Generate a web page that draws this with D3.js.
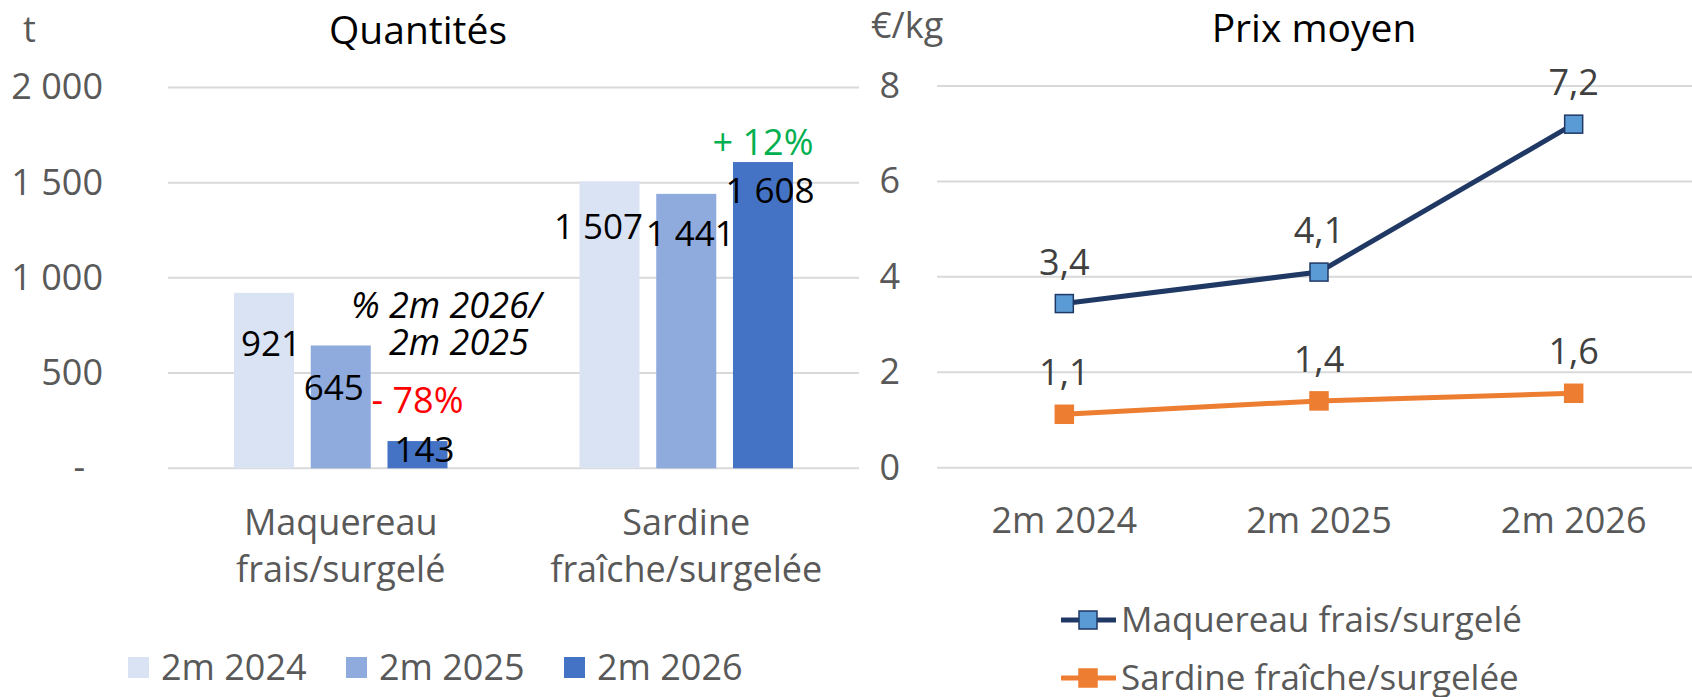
<!DOCTYPE html>
<html>
<head>
<meta charset="utf-8">
<script src="https://cdn.jsdelivr.net/npm/d3@7"></script>
<style>
body { margin: 0; background: #fff; }
text { font-family: 'Open Sans', sans-serif; }
</style>
</head>
<body>
<div id="chart"></div>
<script>
// data
var species = ["Maquereau frais/surgelé", "Sardine fraîche/surgelée"];
var speciesLines = [["Maquereau", "frais/surgelé"], ["Sardine", "fraîche/surgelée"]];
var periods = ["2m 2024", "2m 2025", "2m 2026"];
var qty2024 = [921, 1507];
var qty2025 = [645, 1441];
var qty2026 = [143, 1608];
var qtyTicks = [0, 500, 1000, 1500, 2000];
var changeLabels = ["- 78%", "+ 12%"];
var priceMaquereau = [3.44, 4.1, 7.2];
var priceSardine = [1.12, 1.4, 1.56];
var priceTicks = [0, 2, 4, 6, 8];

// layout only: hand nudges of the bar labels (dx, dy from bar centre / top)
var labelNudge = [
    [[7, 63], [-7, 55], [7, 21]],
    [[-11, 58], [4, 52], [7, 41]]
];
var barColors = ["#DAE3F3", "#8FAADC", "#4472C4"];
var gridColor = "#D9D9D9";
var axisText = "#595959";
var fs = 36;      // axis + legend text
var fsVal = 35;   // data labels
var fsTitle = 39;

var fr = d3.formatLocale({decimal: ",", thousands: " ", grouping: [3], currency: ["", ""]});
var fmtQty = fr.format(",d");
var fmtPrice = fr.format(".1f");

var width = 1692, height = 697;
var svg = d3.select("#chart").append("svg")
    .attr("width", width)
    .attr("height", height);

// ---------- left : quantités ----------
var qtyBySeries = [qty2024, qty2025, qty2026];
var x0 = d3.scaleBand().domain(species).range([168, 859]);
var x1 = d3.scaleBand().domain(periods).range([66, x0.bandwidth() - 66]).paddingInner(0.218);
var y = d3.scaleLinear().domain([0, 2000]).range([468.3, 87.4]);

svg.append("g").selectAll("line")
    .data(qtyTicks)
    .enter()
    .append("line")
    .attr("x1", 168).attr("x2", 859)
    .attr("y1", function (d) { return y(d); })
    .attr("y2", function (d) { return y(d); })
    .attr("stroke", gridColor)
    .attr("stroke-width", 2);

var yAxis = svg.append("g")
    .attr("transform", "translate(168,0)")
    .call(d3.axisLeft(y).tickValues(qtyTicks).tickSize(0).tickPadding(65)
        .tickFormat(function (d) { return d === 0 ? "-" : fmtQty(d); }));
yAxis.select(".domain").remove();
yAxis.selectAll("text")
    .attr("fill", axisText)
    .style("font-size", fs + "px")
    .attr("dx", function (d) { return d === 0 ? -18 : 0; });

var groups = svg.selectAll(".grp")
    .data(species)
    .enter()
    .append("g")
    .attr("class", "grp")
    .attr("transform", function (d) { return "translate(" + x0(d) + ",0)"; });

groups.selectAll("rect")
    .data(function (d, i) { return periods.map(function (p, j) { return {p: p, j: j, i: i, v: qtyBySeries[j][i]}; }); })
    .enter()
    .append("rect")
    .attr("x", function (d) { return x1(d.p); })
    .attr("y", function (d) { return y(d.v); })
    .attr("width", x1.bandwidth())
    .attr("height", function (d) { return y(0) - y(d.v); })
    .attr("fill", function (d) { return barColors[d.j]; });

groups.selectAll(".val")
    .data(function (d, i) { return periods.map(function (p, j) { return {p: p, j: j, i: i, v: qtyBySeries[j][i]}; }); })
    .enter()
    .append("text")
    .attr("class", "val")
    .attr("x", function (d) { return x1(d.p) + x1.bandwidth() / 2 + labelNudge[d.i][d.j][0]; })
    .attr("y", function (d) { return y(d.v) + labelNudge[d.i][d.j][1]; })
    .attr("text-anchor", "middle")
    .style("font-size", fsVal + "px")
    .attr("fill", "#000")
    .text(function (d) { return fmtQty(d.v); });

// change labels above the 2026 bars
groups.append("text")
    .attr("x", x1(periods[2]) + x1.bandwidth() / 2)
    .attr("y", function (d, i) { return y(qty2026[i]) + (i === 0 ? -28 : -7); })
    .attr("text-anchor", "middle")
    .style("font-size", fs + "px")
    .attr("fill", function (d, i) { return i === 0 ? "#FF0000" : "#00B050"; })
    .text(function (d, i) { return changeLabels[i]; });

// note
svg.append("text").attr("x", 351).attr("y", 318)
    .style("font-size", fs + "px").style("font-style", "italic")
    .text("% 2m 2026/");
svg.append("text").attr("x", 389).attr("y", 355)
    .style("font-size", fs + "px").style("font-style", "italic")
    .text("2m 2025");

// category labels
groups.selectAll(".cat")
    .data(function (d, i) { return speciesLines[i]; })
    .enter()
    .append("text")
    .attr("class", "cat")
    .attr("x", x0.bandwidth() / 2)
    .attr("y", function (d, k) { return 535 + k * 47; })
    .attr("text-anchor", "middle")
    .attr("fill", axisText)
    .style("font-size", fs + "px")
    .text(function (d) { return d; });

svg.append("text").attr("x", 23).attr("y", 42)
    .attr("fill", axisText).style("font-size", fs + "px").text("t");
svg.append("text").attr("x", 418).attr("y", 44)
    .attr("text-anchor", "middle").style("font-size", fsTitle + "px").text("Quantités");

// legend left
var legL = svg.selectAll(".legL")
    .data(periods)
    .enter()
    .append("g")
    .attr("class", "legL")
    .attr("transform", function (d, i) { return "translate(" + (128 + i * 218) + ",657)"; });
legL.append("rect")
    .attr("width", 21).attr("height", 21)
    .attr("fill", function (d, i) { return barColors[i]; });
legL.append("text")
    .attr("x", 33).attr("y", 23)
    .attr("fill", axisText)
    .style("font-size", fs + "px")
    .text(function (d) { return d; });

// ---------- right : prix moyen ----------
var xp = d3.scaleBand().domain(periods).range([937, 1701]);
var yp = d3.scaleLinear().domain([0, 8]).range([467.7, 86]);

svg.append("g").selectAll("line")
    .data(priceTicks)
    .enter()
    .append("line")
    .attr("x1", 937).attr("x2", 1701)
    .attr("y1", function (d) { return yp(d); })
    .attr("y2", function (d) { return yp(d); })
    .attr("stroke", gridColor)
    .attr("stroke-width", 2);

var ypAxis = svg.append("g")
    .attr("transform", "translate(937,0)")
    .call(d3.axisLeft(yp).tickValues(priceTicks).tickSize(0).tickPadding(37));
ypAxis.select(".domain").remove();
ypAxis.selectAll("text").attr("fill", axisText).style("font-size", fs + "px");

var xpAxis = svg.append("g")
    .attr("transform", "translate(0,468)")
    .call(d3.axisBottom(xp).tickSize(0).tickPadding(39));
xpAxis.select(".domain").remove();
xpAxis.selectAll("text").attr("fill", axisText).style("font-size", fs + "px");

var lineSeries = [
    {name: species[0], values: priceMaquereau, stroke: "#203864", fill: "#5B9BD5"},
    {name: species[1], values: priceSardine, stroke: "#ED7D31", fill: "#ED7D31"}
];
var line = d3.line()
    .x(function (d, i) { return xp(periods[i]) + xp.bandwidth() / 2; })
    .y(function (d) { return yp(d); });

var ser = svg.selectAll(".ser")
    .data(lineSeries)
    .enter()
    .append("g")
    .attr("class", "ser");
ser.append("path")
    .attr("d", function (d) { return line(d.values); })
    .attr("fill", "none")
    .attr("stroke", function (d) { return d.stroke; })
    .attr("stroke-width", 5)
    .attr("stroke-linejoin", "round");
ser.selectAll("rect")
    .data(function (d) { return d.values.map(function (v, i) { return {v: v, i: i, s: d}; }); })
    .enter()
    .append("rect")
    .attr("x", function (d) { return xp(periods[d.i]) + xp.bandwidth() / 2 - 9; })
    .attr("y", function (d) { return yp(d.v) - 9; })
    .attr("width", 18).attr("height", 18)
    .attr("fill", function (d) { return d.s.fill; })
    .attr("stroke", function (d) { return d.s.stroke; })
    .attr("stroke-width", 1.5);
ser.selectAll(".pl")
    .data(function (d) { return d.values; })
    .enter()
    .append("text")
    .attr("class", "pl")
    .attr("x", function (d, i) { return xp(periods[i]) + xp.bandwidth() / 2; })
    .attr("y", function (d) { return yp(d) - 29; })
    .attr("text-anchor", "middle")
    .attr("fill", "#404040")
    .style("font-size", fs + "px")
    .text(function (d) { return fmtPrice(d); });

svg.append("text").attr("x", 871).attr("y", 38)
    .attr("fill", axisText).style("font-size", fs + "px").text("€/kg");
svg.append("text").attr("x", 1314).attr("y", 42)
    .attr("text-anchor", "middle").style("font-size", fsTitle + "px").text("Prix moyen");

// legend right
var legR = svg.selectAll(".legR")
    .data(lineSeries)
    .enter()
    .append("g")
    .attr("class", "legR")
    .attr("transform", function (d, i) { return "translate(1061," + (620 + i * 58) + ")"; });
legR.append("line")
    .attr("x1", 0).attr("x2", 55)
    .attr("stroke", function (d) { return d.stroke; })
    .attr("stroke-width", 5);
legR.append("rect")
    .attr("x", 18).attr("y", -9).attr("width", 18).attr("height", 18)
    .attr("fill", function (d) { return d.fill; })
    .attr("stroke", function (d) { return d.stroke; })
    .attr("stroke-width", 1.5);
legR.append("text")
    .attr("x", 60).attr("y", 12)
    .attr("fill", axisText)
    .style("font-size", "35px")
    .text(function (d) { return d.name; });
</script>
</body>
</html>
